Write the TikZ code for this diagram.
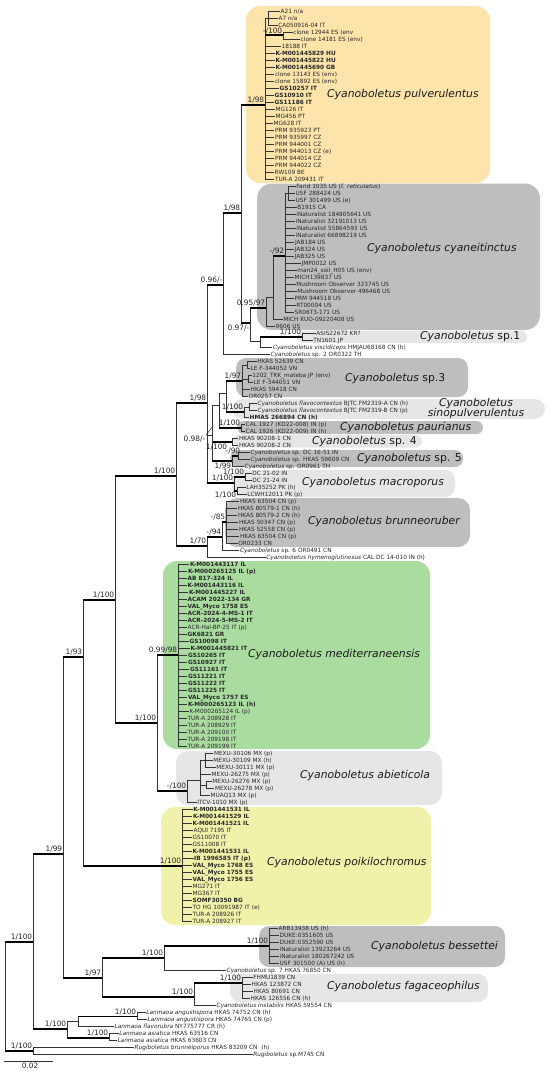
\documentclass[tikz,border=0pt]{standalone}
\usepackage{fontspec}
\setmainfont{DejaVu Sans}
\definecolor{cOrange}{RGB}{253,228,170}
\definecolor{cGray}{RGB}{190,190,190}
\definecolor{cLight}{RGB}{230,230,230}
\definecolor{cGreen}{RGB}{170,220,160}
\definecolor{cYellow}{RGB}{240,242,170}
\tikzset{
 br/.style={line width=0.5pt, draw=black!80},
 thk/.style={line width=1.8pt, draw=black},
 leaf/.style={anchor=west, inner sep=0.5pt, font=\fontsize{5.8}{6}\selectfont, text=black!85},
 supp/.style={inner sep=0.6pt, font=\fontsize{7.4}{8}\selectfont, text=black!85},
 cladelab/.style={anchor=west, inner sep=0pt, font=\fontsize{10.8}{12}\selectfont\itshape, text=black!90},
}
\newcommand{\lf}[4]{\node[leaf] (L#2) at (#3,{11.7+7*#2}) {#4};\draw[br] (#1) |- (L#2.west);}
\newcommand{\edge}[2]{\draw[br] (#1) |- (#2);}
\newcommand{\tedge}[2]{\draw[br] (#1) -- (#1|-#2);\draw[thk] (#1|-#2) -- (#2);}
\newcommand{\sva}[2]{\node[supp,anchor=south east] (lab-#1) at ([yshift=0.8pt]#1) {#2};}
\newcommand{\svb}[2]{\node[supp,anchor=north east] (lab-#1) at ([yshift=-0.8pt]#1) {#2};}
\newcommand{\cbox}[6]{\fill[#5, rounded corners=#6] (#1,#2) rectangle (#3,#4);}
\begin{document}
\begin{tikzpicture}[x=1pt,y=-1pt]
\useasboundingbox (0,0) rectangle (550,1073);
% ---------- clade boxes ----------
\cbox{246}{6}{490}{183}{cOrange}{14pt}
\cbox{257}{183.5}{540}{330}{cGray}{15pt}
\cbox{297}{331}{527}{343}{cLight}{6pt}
\cbox{236}{358}{468}{397}{cGray}{10pt}
\cbox{232}{399}{545}{419}{cLight}{10pt}
\cbox{237}{421}{483}{434}{cGray}{6.5pt}
\cbox{233}{435}{422}{447.5}{cLight}{6pt}
\cbox{230}{450}{463}{467}{cGray}{8pt}
\cbox{232}{470}{455}{497}{cLight}{10pt}
\cbox{225}{498}{470}{547}{cGray}{12pt}
\cbox{163}{561}{430}{749}{cGreen}{14pt}
\cbox{176}{751}{442}{805}{cLight}{12pt}
\cbox{161}{807}{431}{925}{cYellow}{14pt}
\cbox{259}{926}{505}{967}{cGray}{10pt}
\cbox{230}{974}{488}{1002}{cLight}{10pt}
% ---------- clade names ----------
\node[cladelab] (n1) at (327,95) {Cyanoboletus pulverulentus};
\node[cladelab] (n2) at (367,249) {Cyanoboletus cyaneitinctus};
\node[cladelab] (n3) at (420,337) {Cyanoboletus \upshape sp.1};
\node[cladelab] (n4) at (345,379) {Cyanoboletus \upshape sp.3};
\node[cladelab, anchor=center, align=center, font=\fontsize{10.8}{10.5}\selectfont\itshape] (n5) at (476,408.5) {Cyanoboletus\\sinopulverulentus};
\node[cladelab] (n6) at (340,428) {Cyanoboletus paurianus};
\node[cladelab] (n7) at (312,442) {Cyanoboletus \upshape sp. 4};
\node[cladelab] (n8) at (357,459) {Cyanoboletus \upshape sp. 5};
\node[cladelab] (n9) at (302,483) {Cyanoboletus macroporus};
\node[cladelab] (n10) at (308,522) {Cyanoboletus brunneoruber};
\node[cladelab] (n11) at (248,655) {Cyanoboletus mediterraneensis};
\node[cladelab] (n12) at (300,776) {Cyanoboletus abieticola};
\node[cladelab] (n13) at (267,863) {Cyanoboletus poikilochromus};
\node[cladelab] (n14) at (371,947) {Cyanoboletus bessettei};
\node[cladelab] (n15) at (327,987) {Cyanoboletus fagaceophilus};
% ---------- internal nodes ----------
\coordinate (P) at (265,105);
\coordinate (P1) at (268,18.7);
\coordinate (P2) at (283,35.3);
\coordinate (X) at (241,213);
\coordinate (Y) at (250,323);
\coordinate (C) at (266,308);
\coordinate (C2) at (273,297);
\coordinate (C3) at (285,256);
\coordinate (C3a) at (288,193.7);
\coordinate (D) at (260,341.7);
\coordinate (S1) at (302,337.2);
\coordinate (Z) at (223,285);
\coordinate (N207) at (207,403);
\coordinate (N212) at (212,435);
\coordinate (N219) at (219,405);
\coordinate (N226) at (226,393);
\coordinate (S3) at (242,381);
\coordinate (S3a) at (247,365.2);
\coordinate (S3b) at (248,379);
\coordinate (Sn) at (244,412);
\coordinate (Sf) at (249,407.2);
\coordinate (Pa) at (241,428.2);
\coordinate (S4) at (232,442.2);
\coordinate (S5) at (232,461);
\coordinate (S5a) at (238,456.2);
\coordinate (M) at (234,483);
\coordinate (Md) at (245,476.8);
\coordinate (Ml) at (237,490.8);
\coordinate (B70) at (207,546);
\coordinate (B94) at (222,537);
\coordinate (B85) at (226,522);
\coordinate (N176) at (176,476);
\coordinate (N115) at (115,600);
\coordinate (N157) at (157,723);
\coordinate (Med) at (178,655);
\coordinate (Ab) at (187,791);
\coordinate (Am) at (200.7,780.7);
\coordinate (Am1) at (205,760.7);
\coordinate (Am2) at (206,785.2);
\coordinate (N83) at (83,657);
\coordinate (Po) at (182,866);
\coordinate (N63) at (63,854);
\coordinate (N102) at (102,978);
\coordinate (N164) at (164,958);
\coordinate (Be) at (269,945.7);
\coordinate (N194) at (194,997);
\coordinate (Fa) at (242,983);
\coordinate (N33) at (33,942);
\coordinate (NL) at (67,1029);
\coordinate (NL78) at (78,1021);
\coordinate (NLang) at (137,1016.5);
\coordinate (NLa) at (109,1037.6);
\coordinate (NR) at (33,1051.2);
\coordinate (R) at (5,997);
% ---------- pulverulentus ----------
\edge{P}{P1}
\lf{P1}{0}{280}{A21 n/a}
\lf{P1}{1}{278}{A7 n/a}
\lf{P1}{2}{277.7}{CA050916-04 IT}
\tedge{P}{P2}\sva{P2}{-/100}
\lf{P2}{3}{292.7}{clone 12944 ES (env}
\lf{P2}{4}{300}{clone 14181 ES (env)}
\lf{P}{5}{281}{18188 IT}
\lf{P}{6}{275}{\textbf{K-M001445829 HU}}
\lf{P}{7}{275}{\textbf{K-M001445822 HU}}
\lf{P}{8}{275}{\textbf{K-M001445690 GB}}
\lf{P}{9}{274.3}{clone 13143 ES (env)}
\lf{P}{10}{274.3}{clone 15892 ES (env)}
\lf{P}{11}{279}{\textbf{GS10257 IT}}
\lf{P}{12}{274}{\textbf{GS10910 IT}}
\lf{P}{13}{274}{\textbf{GS11186 IT}}
\lf{P}{14}{275}{MG126 IT}
\lf{P}{15}{275}{MG456 PT}
\lf{P}{16}{273}{MG628 IT}
\lf{P}{17}{274.3}{PRM 935923 PT}
\lf{P}{18}{274.3}{PRM 935997 CZ}
\lf{P}{19}{274.3}{PRM 944001 CZ}
\lf{P}{20}{274.3}{PRM 944013 CZ (e)}
\lf{P}{21}{274.3}{PRM 944014 CZ}
\lf{P}{22}{274.3}{PRM 944022 CZ}
\lf{P}{23}{274}{RW109 BE}
\lf{P}{24}{274.3}{TUR-A 209431 IT}
% ---------- cyaneitinctus ----------
\tedge{X}{P}\sva{P}{1/98}
\tedge{X}{Y}\svb{Y}{0.97/-}
\tedge{Y}{C}\sva{C}{0.95/97}
\edge{C}{C2}
\tedge{C2}{C3}\sva{C3}{-/92}
\edge{C3}{C3a}
\lf{C3a}{25}{295.7}{Farid 1035 US (\textit{f. reticulatus})}
\lf{C3a}{26}{295}{USF 288424 US}
\lf{C3a}{27}{295}{USF 301499 US (e)}
\lf{C3}{28}{296.7}{B1915 CA}
\lf{C3}{29}{295.7}{iNaturalist 184805641 US}
\lf{C3}{30}{295}{iNaturalist 32191013 US}
\lf{C3}{31}{295.7}{iNaturalist 55864593 US}
\lf{C3}{32}{295}{iNaturalist 66898219 US}
\lf{C3}{33}{294.3}{JAB184 US}
\lf{C3}{34}{294}{JAB324 US}
\lf{C3}{35}{294}{JAB325 US}
\lf{C3}{36}{301}{JMP0012 US}
\lf{C3}{37}{296.7}{man24\_soil\_H05 US (env)}
\lf{C3}{38}{294}{MICH139837 US}
\lf{C3}{39}{295.7}{Mushroom Observer 323745 US}
\lf{C3}{40}{296.7}{Mushroom Observer 496468 US}
\lf{C3}{41}{294}{PRM 944518 US}
\lf{C3}{42}{295.7}{RT00004 US}
\lf{C3}{43}{294}{SR06T3-171 US}
\lf{C2}{44}{282.7}{MICH KUO-09220408 US}
\lf{C}{45}{275}{9606 US}
\edge{Y}{D}
\tedge{D}{S1}\sva{S1}{1/100}
\lf{S1}{46}{315.7}{ASIS22672 KR?}
\lf{S1}{47}{312.7}{TN1601 JP}
\lf{D}{48}{272.3}{\textit{Cyanoboletus viscidiceps} HMJAU68168 CN (h)}
\tedge{Z}{X}\sva{X}{1/98}
\lf{Z}{49}{270}{\textit{Cyanoboletus} sp. 2 OR0322 TH}
% ---------- middle ----------
\tedge{N207}{Z}\sva{Z}{0.96/-}
\edge{N207}{N212}
\tedge{N207}{M}\sva{M}{1/100}
\edge{N212}{N219}
\tedge{N212}{S4}
\node[supp,anchor=north east] (lab-S4) at ([xshift=-4pt,yshift=-0.8pt]S4) {1/100};
\tedge{N212}{S5}\svb{S5}{1/99}
\edge{N219}{N226}
\tedge{N219}{Pa}\sva{Pa}{1/100}
\tedge{N226}{S3}\sva{S3}{1/97}
\tedge{N226}{Sn}\sva{Sn}{1/100}
\node[supp,anchor=east] (lab098) at (206,439) {0.98/-};
\coordinate (lead098) at (213,426);
\draw[br] (lab098.north east) -- (lead098);
\edge{S3}{S3a}
\edge{S3}{S3b}
\lf{S3a}{50}{256.7}{HKAS 52639 CN}
\lf{S3a}{51}{250}{LE F-344052 VN}
\lf{S3b}{52}{251.7}{1202\_TKK\_mateba JP (env)}
\lf{S3b}{53}{253}{LE F-344051 VN}
\lf{S3}{54}{250}{HKAS 59418 CN}
\lf{S3}{55}{248}{OR0257 CN}
\edge{Sn}{Sf}
\lf{Sf}{56}{257}{\textit{Cyanoboletus flavocontextus} BJTC FM2319-A CN (h)}
\lf{Sf}{57}{257}{\textit{Cyanoboletus flavocontextus} BJTC FM2319-B CN (p)}
\lf{Sn}{58}{249}{\textbf{HMAS 266894 CN (h)}}
\lf{Pa}{59}{245}{CAL 1927 (KD22-008) IN (p)}
\lf{Pa}{60}{245}{CAL 1926 (KD22-009) IN (h)}
\lf{S4}{61}{238.3}{HKAS 90208-1 CN}
\lf{S4}{62}{238.3}{HKAS 90208-2 CN}
\tedge{S5}{S5a}
\node[supp,anchor=south east] (lab-S5a) at ([xshift=3pt,yshift=0.8pt]S5a) {-/90};
\lf{S5a}{63}{250}{\textit{Cyanoboletus} sp. DC 16-51 IN}
\lf{S5a}{64}{250}{\textit{Cyanoboletus} sp. HKAS 59609 CN}
\lf{S5}{65}{244}{\textit{Cyanoboletus} sp. OR0961 TH}
\tedge{M}{Md}\sva{Md}{1/100}
\tedge{M}{Ml}\svb{Ml}{1/100}
\lf{Md}{66}{251.7}{DC 21-02 IN}
\lf{Md}{67}{251.7}{DC 21-24 IN}
\lf{Ml}{68}{245.7}{LAH35252 PK (h)}
\lf{Ml}{69}{246.7}{LCWH12011 PK (p)}
% ---------- brunneoruber ----------
\tedge{B70}{B94}\sva{B94}{-/94}
\tedge{B94}{B85}\sva{B85}{-/85}
\lf{B85}{70}{239.3}{HKAS 63504 CN (p)}
\lf{B85}{71}{237.3}{HKAS 80579-1 CN (h)}
\lf{B85}{72}{237.3}{HKAS 80579-2 CN (h)}
\lf{B85}{73}{238.3}{HKAS 50347 CN (p)}
\lf{B85}{74}{238.3}{HKAS 52558 CN (p)}
\lf{B85}{75}{239.3}{HKAS 63504 CN (p)}
\lf{B85}{76}{237.7}{OR0233 CN}
\lf{B94}{77}{239.3}{\textit{Cyanoboletus} sp. 6 OR0491 CN}
\lf{B70}{78}{265.7}{\textit{Cyanoboletus hymenoglutinosus} CAL DC 14-010 IN (h)}
\tedge{N176}{N207}\sva{N207}{1/98}
\tedge{N176}{B70}\sva{B70}{1/70}
\tedge{N115}{N176}\sva{N176}{1/100}
\tedge{N115}{N157}\sva{N157}{1/100}
% ---------- mediterraneensis ----------
\tedge{N157}{Med}\sva{Med}{0.99/98}
\lf{Med}{79}{189.3}{\textbf{K-M001443117 IL}}
\lf{Med}{80}{187.3}{\textbf{K-M000265125 IL (p)}}
\lf{Med}{81}{187}{\textbf{AB 817-324 IL}}
\lf{Med}{82}{187}{\textbf{K-M001443116 IL}}
\lf{Med}{83}{188.3}{\textbf{K-M001445227 IL}}
\lf{Med}{84}{187}{\textbf{ACAM 2022-134 GR}}
\lf{Med}{85}{187}{\textbf{VAL\_Myco 1758 ES}}
\lf{Med}{86}{187}{\textbf{ACR-2024-4-MS-1 IT}}
\lf{Med}{87}{187}{\textbf{ACR-2024-5-MS-2 IT}}
\lf{Med}{88}{187}{ACR-Hal-BP-25 IT (p)}
\lf{Med}{89}{187}{\textbf{GK6821 GR}}
\lf{Med}{90}{189}{\textbf{GS10098 IT}}
\lf{Med}{91}{190}{\textbf{K-M001445821 IT}}
\lf{Med}{92}{187.3}{\textbf{GS10265 IT}}
\lf{Med}{93}{187.3}{\textbf{GS10927 IT}}
\lf{Med}{94}{189.3}{\textbf{GS11161 IT}}
\lf{Med}{95}{187.3}{\textbf{GS11221 IT}}
\lf{Med}{96}{187.3}{\textbf{GS11222 IT}}
\lf{Med}{97}{187.3}{\textbf{GS11225 IT}}
\lf{Med}{98}{187.3}{\textbf{VAL\_Myco 1757 ES}}
\lf{Med}{99}{187.3}{\textbf{K-M000265123 IL (h)}}
\lf{Med}{100}{189}{K-M000265124 IL (p)}
\lf{Med}{101}{187}{TUR-A 208928 IT}
\lf{Med}{102}{187}{TUR-A 208929 IT}
\lf{Med}{103}{187}{TUR-A 209100 IT}
\lf{Med}{104}{187}{TUR-A 209198 IT}
\lf{Med}{105}{187}{TUR-A 209199 IT}
% ---------- abieticola ----------
\tedge{N157}{Ab}\sva{Ab}{-/100}
\edge{Ab}{Am}
\edge{Am}{Am1}
\edge{Am}{Am2}
\lf{Am1}{106}{213.3}{MEXU-30106 MX (p)}
\lf{Am1}{107}{212.7}{MEXU-30109 MX (h)}
\lf{Am1}{108}{215.7}{MEXU-30111 MX (p)}
\lf{Am}{109}{211}{MEXU-26275 MX (p)}
\lf{Am2}{110}{211.7}{MEXU-26276 MX (p)}
\lf{Am2}{111}{214.3}{MEXU-26278 MX (p)}
\lf{Am}{112}{210}{MUAQ13 MX (p)}
\lf{Ab}{113}{196.7}{ITCV-1010 MX (p)}
% ---------- poikilochromus ----------
\tedge{N83}{N115}\sva{N115}{1/100}
\tedge{N83}{Po}\sva{Po}{1/100}
\lf{Po}{114}{192.7}{\textbf{K-M001441531 IL}}
\lf{Po}{115}{192.3}{\textbf{K-M001441529 IL}}
\lf{Po}{116}{192}{\textbf{K-M001441521 IL}}
\lf{Po}{117}{193}{AQUI 7195 IT}
\lf{Po}{118}{192}{GS10070 IT}
\lf{Po}{119}{192}{GS11008 IT}
\lf{Po}{120}{192}{\textbf{K-M001441531 IL}}
\lf{Po}{121}{193.5}{\textbf{IB 1996585 IT (p)}}
\lf{Po}{122}{192}{\textbf{VAL\_Myco 1768 ES}}
\lf{Po}{123}{192}{\textbf{VAL\_Myco 1755 ES}}
\lf{Po}{124}{192}{\textbf{VAL\_Myco 1756 ES}}
\lf{Po}{125}{192}{MG271 IT}
\lf{Po}{126}{192}{MG367 IT}
\lf{Po}{127}{192}{\textbf{SOMF30350 BG}}
\lf{Po}{128}{192}{TO HG 10091987 IT (e)}
\lf{Po}{129}{192}{TUR-A 208926 IT}
\lf{Po}{130}{192}{TUR-A 208927 IT}
% ---------- bessettei / fagaceophilus ----------
\tedge{N63}{N83}\sva{N83}{1/93}
\tedge{N63}{N102}\sva{N102}{1/97}
\tedge{N102}{N164}\sva{N164}{1/100}
\tedge{N102}{N194}\sva{N194}{1/100}
\tedge{N164}{Be}\sva{Be}{1/100}
\lf{Be}{131}{278}{ARB13938 US (h)}
\lf{Be}{132}{279}{DUKE:0351605 US}
\lf{Be}{133}{279}{DUKE:0352590 US}
\lf{Be}{134}{279}{iNaturalist 13923264 US}
\lf{Be}{135}{279}{iNaturalist 180267242 US}
\lf{Be}{136}{279}{USF 301500 (A) US (h)}
\lf{N164}{137}{226}{\textit{Cyanoboletus} sp. 7 HKAS 76850 CN}
\tedge{N194}{Fa}\sva{Fa}{1/100}
\lf{Fa}{138}{252.6}{FHMU1839 CN}
\lf{Fa}{139}{251}{HKAS 123872 CN}
\lf{Fa}{140}{253}{HKAS 80691 CN}
\lf{Fa}{141}{250}{HKAS 126556 CN (h)}
\lf{N194}{142}{216}{\textit{Cyanoboletus instabilis} HKAS 59554 CN}
% ---------- Lanmaoa / Rugiboletus ----------
\tedge{N33}{N63}\sva{N63}{1/99}
\tedge{N33}{NL}\sva{NL}{1/100}
\edge{NL}{NL78}
\tedge{NL}{NLa}\sva{NLa}{1/100}
\tedge{NL78}{NLang}\sva{NLang}{1/100}
\lf{NLang}{143}{145.6}{\textit{Lanmaoa angustispora} HKAS 74752 CN (h)}
\lf{NLang}{144}{147}{\textit{Lanmaoa angustispora} HKAS 74765 CN (p)}
\lf{NL78}{145}{114}{\textit{Lanmaoa flavorubra} NY775777 CR (h)}
\lf{NLa}{146}{118.6}{\textit{Lanmaoa asiatica} HKAS 63516 CN}
\lf{NLa}{147}{116.8}{\textit{Lanmaoa asiatica} HKAS 63603 CN}
\tedge{R}{N33}\sva{N33}{1/100}
\tedge{R}{NR}\sva{NR}{1/100}
\lf{NR}{148}{134}{\textit{Rugiboletus brunneiporus} HKAS 83209 CN~ (h)}
\lf{NR}{149}{252.6}{\textit{Rugiboletus} sp.M745 CN}
% ---------- scale bar ----------
\coordinate (sb1) at (4,1061);
\coordinate (sb2) at (53,1061);
\draw[br] (sb1) -- (sb2);
\node[supp, anchor=north] (sblab) at (30,1062.5) {0.02};
\end{tikzpicture}
\end{document}
